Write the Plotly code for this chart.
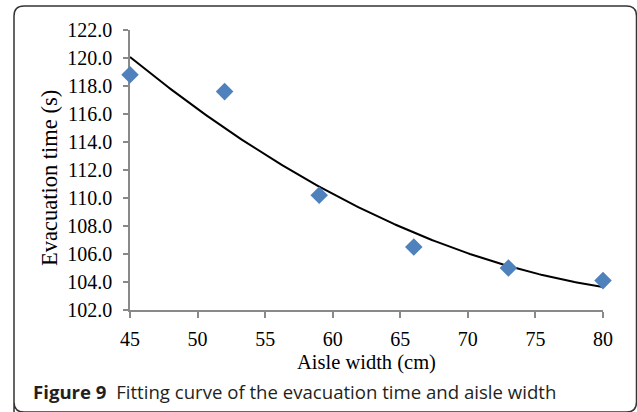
import numpy as np
import plotly.graph_objects as go

# Data
aisle_width_cm = [45, 52, 59, 66, 73, 80]
evacuation_time_s = [118.8, 117.6, 110.2, 106.5, 105.0, 104.1]
x_ticks = [45, 50, 55, 60, 65, 70, 75, 80]
y_ticks = [102, 104, 106, 108, 110, 112, 114, 116, 118, 120, 122]

# Second-order polynomial trend line fitted to the data
coef = np.polyfit(aisle_width_cm, evacuation_time_s, 2)
xs = np.linspace(min(aisle_width_cm), max(aisle_width_cm), 200)
ys = np.polyval(coef, xs)

W, H = 637, 412
L, R, T, B = 130, 34, 30, 102
PW, PH = W - L - R, H - T - B

def px(x):
    return (x - L) / PW

def py(y):
    return (H - B - y) / PH

serif = "Liberation Serif"

fig = go.Figure()
fig.add_trace(go.Scatter(x=xs, y=ys, mode="lines",
                         line=dict(color="black", width=2), hoverinfo="skip",
                         showlegend=False, cliponaxis=False))
fig.add_trace(go.Scatter(x=aisle_width_cm, y=evacuation_time_s, mode="markers",
                         marker=dict(symbol="diamond", size=13.5, color="#4F81BD",
                                     line=dict(width=0)),
                         showlegend=False, cliponaxis=False))

fig.update_xaxes(range=[45, 80], tickvals=x_ticks, ticktext=[str(v) for v in x_ticks],
                 showgrid=False, zeroline=False, showline=True, linecolor="#898989",
                 linewidth=1.5, ticks="outside", ticklen=6, tickcolor="#898989",
                 tickwidth=1.5, ticklabelstandoff=4, layer="below traces",
                 tickfont=dict(family=serif, size=20, color="black"))
fig.update_yaxes(range=[102, 122], tickvals=y_ticks, ticktext=[f"{v:.1f}" for v in y_ticks],
                 showgrid=False, zeroline=False, showline=True, linecolor="#898989",
                 linewidth=1.5, ticks="outside", ticklen=5, tickcolor="#898989",
                 tickwidth=1.5, ticklabelstandoff=7, layer="below traces",
                 tickfont=dict(family=serif, size=20, color="black"))

# Rounded frame
x0, y0, x1, y1, r = 14, 6, 636.5, 412, 10
path = (f"M {px(x0)},{py(y1)} L {px(x0)},{py(y0 + r)} "
        f"Q {px(x0)},{py(y0)} {px(x0 + r)},{py(y0)} "
        f"L {px(x1 - r)},{py(y0)} Q {px(x1)},{py(y0)} {px(x1)},{py(y0 + r)} "
        f"L {px(x1)},{py(y1 - r)} Q {px(x1)},{py(y1)} {px(x1 - r)},{py(y1)} "
        f"L {px(x0 + r)},{py(y1)} Q {px(x0)},{py(y1)} {px(x0)},{py(y1 - r)} Z")
fig.add_shape(type="path", path=path, xref="paper", yref="paper",
              line=dict(color="#333333", width=1.5), layer="above")

fig.add_annotation(text="Aisle width (cm)", xref="paper", yref="paper",
                   x=px(366.5), y=py(362), showarrow=False, xanchor="center",
                   yanchor="middle", font=dict(family=serif, size=20.5, color="black"))
fig.add_annotation(text="Evacuation time (s)", xref="paper", yref="paper",
                   x=px(49), y=py(178), showarrow=False, textangle=-90,
                   xanchor="center", yanchor="middle",
                   font=dict(family=serif, size=22.5, color="black"))
fig.add_annotation(text="<b>Figure 9</b>  Fitting curve of the evacuation time and aisle width",
                   xref="paper", yref="paper", x=px(31), y=py(391), showarrow=False,
                   xanchor="left", yanchor="middle",
                   font=dict(family="Open Sans", size=18.6, color="#231f20"))

fig.update_layout(width=W, height=H, margin=dict(l=L, r=R, t=T, b=B),
                  paper_bgcolor="white", plot_bgcolor="white")

fig.write_html("out.html", config={"displayModeBar": False},
               post_script="document.body.style.margin='0';document.body.style.overflow='hidden';")
